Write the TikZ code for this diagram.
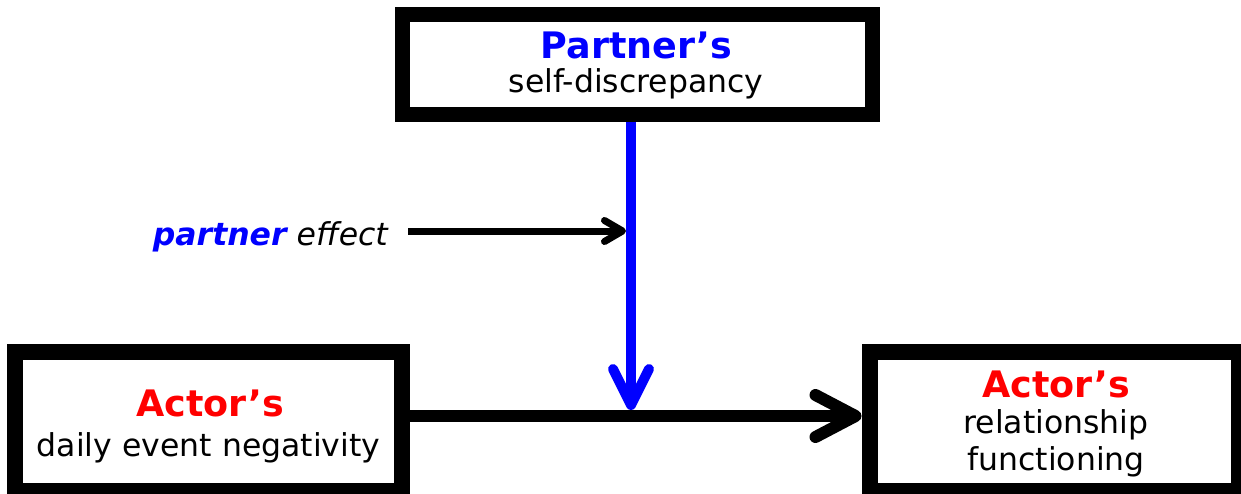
\documentclass[tikz,border=0pt]{standalone}
\usepackage{fontspec}
\setmainfont{DejaVu Sans}
\usetikzlibrary{arrows.meta}
\definecolor{pblue}{RGB}{0,0,255}
\definecolor{ared}{RGB}{255,0,0}
\tikzset{
  box/.style={draw=black, fill=white, line width=#1, outer sep=0.5*#1, inner sep=0pt},
  normtxt/.style={font=\fontsize{31.5}{37}\selectfont, inner sep=0pt, anchor=base},
  boldtxt/.style={font=\fontsize{36.5}{40}\selectfont\bfseries, inner sep=0pt, anchor=base},
  bigarrow/.style={line width=12pt, line cap=round,
    -{Straight Barb[length=40pt,width=42pt,line cap=round,line join=round]}},
  bluearrow/.style={draw=pblue, line width=10pt, line cap=butt,
    -{Straight Barb[length=36pt,width=36pt,line cap=round,line join=round]}},
  smallarrow/.style={line width=7pt, line cap=butt,
    -{Straight Barb[length=18pt,width=21pt,line cap=round,line join=round]}}
}
\begin{document}
\begin{tikzpicture}[x=1pt,y=-1pt]
\useasboundingbox (0,0) rectangle (1241,493);
\clip (0,0) rectangle (1241,493);
% boxes
\node[box=15pt, minimum width=470pt, minimum height=100pt] (tbox) at (637.5,64.5) {};
\node[box=16pt, minimum width=387pt, minimum height=139pt] (lbox) at (208.5,421.5) {};
\node[box=16pt, minimum width=369.5pt, minimum height=139pt] (rbox) at (1054.25,421.5) {};
% texts
\node[boldtxt, text=pblue] (t1) at (636.5,58) {Partner’s};
\node[normtxt] (t2) at (636,92) {self-discrepancy};
\node[boldtxt, text=ared] (l1) at (210,416) {Actor’s};
\node[normtxt] (l2) at (208.5,456) {daily event negativity};
\node[boldtxt, text=ared] (r1) at (1056,397) {Actor’s};
\node[normtxt] (r2) at (1056,433) {relationship};
\node[normtxt] (r3) at (1056,470) {functioning};
\node[font=\fontsize{31.5}{37}\selectfont\itshape, inner sep=0pt, anchor=base east] (pe) at (388,245)
  {\textcolor{pblue}{\bfseries partner} effect};
% connectors
\coordinate (m) at (631,410);
\coordinate (pt) at (626,231);
\draw[bigarrow] ([yshift=5.5pt]lbox.east) -- ([yshift=5.5pt]rbox.west);
\draw[bluearrow] (tbox.south -| m) -- (m);
\draw[smallarrow] ([xshift=20pt]pe.east |- pt) -- (pt);
\end{tikzpicture}
\end{document}
